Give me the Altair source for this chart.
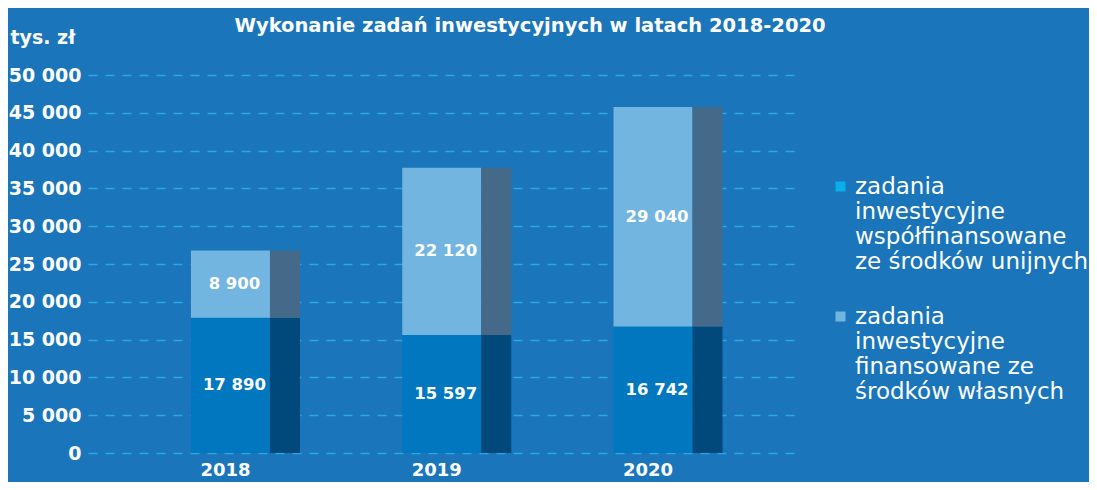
import altair as alt
import pandas as pd

years = ["2018", "2019", "2020"]
eu_funded = [17890, 15597, 16742]
own_funded = [8900, 22120, 29040]
series = [
    "zadania|inwestycyjne|współfinansowane|ze środków unijnych",
    "zadania|inwestycyjne|finansowane ze|środków własnych",
]
y_ticks = [0, 5000, 10000, 15000, 20000, 25000, 30000, 35000, 40000, 45000, 50000]

BG = "#1a75bb"
front_colors = ["#0077bf", "#72b5e0"]
side_colors = ["#00497a", "#456a89"]
legend_colors = ["#0aaee8", "#72b5e0"]
FONT = "DejaVu Sans"

rows = []
for i, y in enumerate(years):
    rows.append({"year": y, "series": series[0], "value": eu_funded[i], "order": 0})
    rows.append({"year": y, "series": series[1], "value": own_funded[i], "order": 1})
df = pd.DataFrame(rows)

fmt = "replace(format(datum.value, ','), ',', ' ')"

x_enc = alt.X(
    "year:N",
    scale=alt.Scale(paddingInner=0, paddingOuter=0.185, align=0.663),
    axis=alt.Axis(
        title=None, labelAngle=0, domain=False, ticks=False,
        labelFont=FONT, labelFontWeight="bold", labelFontSize=18,
        labelColor="white", labelPadding=8, labelOffset=-20,
    ),
)
y_axis = alt.Axis(
    values=y_ticks, labelExpr=fmt, labelFont=FONT, labelFontWeight="bold",
    labelFontSize=19, labelColor="white", labelPadding=7,
    domain=False, ticks=False, grid=True, gridColor="#2aa9e2",
    gridDash=[9, 8], gridWidth=1.5,
    title="tys. zł", titleAngle=0, titleAlign="left", titleBaseline="middle",
    titleX=-78, titleY=-38, titleFont=FONT, titleFontSize=19,
    titleFontWeight="bold", titleColor="white",
)
y_scale = alt.Scale(domain=[0, 50000], nice=False)

base = alt.Chart(df).encode(
    x=x_enc,
    y=alt.Y("value:Q", stack="zero", scale=y_scale, axis=y_axis),
    order=alt.Order("order:Q"),
)

front = base.mark_bar(width=79, xOffset=-15).encode(
    color=alt.Color("series:N", scale=alt.Scale(domain=series, range=front_colors), legend=None)
)
side = base.mark_bar(width=30, xOffset=39.5).encode(
    color=alt.Color("series:N", scale=alt.Scale(domain=series, range=side_colors), legend=None)
)
legend_layer = base.mark_square(opacity=0, size=10).encode(
    color=alt.Color(
        "series:N",
        scale=alt.Scale(domain=series, range=legend_colors),
        legend=alt.Legend(
            title=None, orient="none", legendX=741, legendY=100,
            labelExpr="split(datum.label, '|')", labelFont=FONT,
            labelFontSize=23, labelColor="white", labelBaseline="middle",
            labelLimit=400, symbolType="square", symbolSize=100,
            symbolOpacity=1, symbolStrokeWidth=0, labelOffset=3,
            rowPadding=31, padding=0, direction="vertical",
        ),
    )
)

text = alt.Chart(df).transform_stack(
    stack="value", as_=["v0", "v1"], groupby=["year"], sort=[alt.SortField("order")]
).transform_calculate(
    mid="(datum.v0 + datum.v1) / 2", lbl=fmt
).mark_text(
    xOffset=-11, font=FONT, fontWeight="bold", fontSize=16.5, color="white"
).encode(
    x=x_enc,
    y=alt.Y("mid:Q", scale=y_scale, axis=y_axis),
    text="lbl:N",
)

chart = alt.layer(front, side, legend_layer, text).resolve_scale(
    color="independent"
).properties(
    width=712, height=378,
    autosize=alt.AutoSizeParams(type="none"),
    padding={"left": 80, "top": 67, "right": 289, "bottom": 29},
    background=BG,
    title=alt.TitleParams(
        "Wykonanie zadań inwestycyjnych w latach 2018-2020",
        font=FONT, fontSize=19.5, fontWeight="bold", color="white",
        anchor="middle", dx=86, dy=12,
    ),
).configure_view(stroke=None)

chart.save("out.html", embed_options={"renderer": "svg", "actions": False})
